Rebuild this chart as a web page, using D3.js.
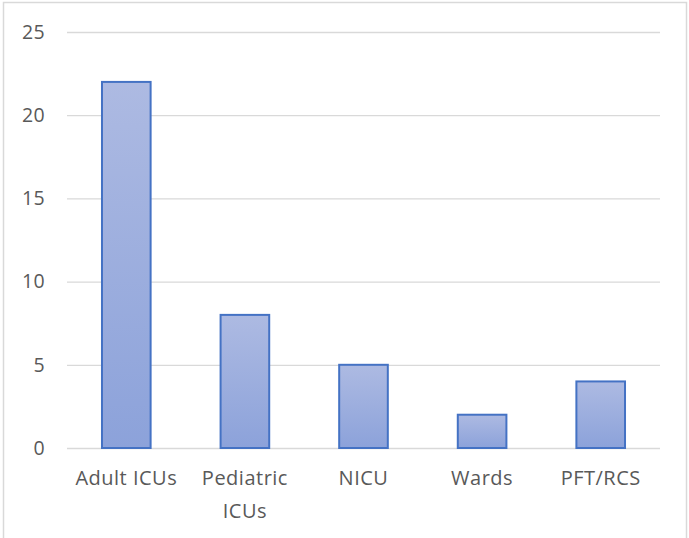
<!DOCTYPE html>
<html>
<head>
<meta charset="utf-8">
<script src="https://cdn.jsdelivr.net/npm/d3@7"></script>
<style>
  html, body { margin: 0; padding: 0; background: #fff; }
  svg { display: block; }
  text { font-family: "Open Sans", "Liberation Sans", sans-serif; fill: #595959; }
</style>
</head>
<body>
<svg id="chart" width="689" height="538"></svg>
<script>
// Chart data
const categories = ["Adult ICUs", "Pediatric ICUs", "NICU", "Wards", "PFT/RCS"];
const counts = [22, 8, 5, 2, 4];
const yTicks = [0, 5, 10, 15, 20, 25];

const W = 689, H = 538;
const plot = { left: 67, right: 660, top: 32, bottom: 448 };

const svg = d3.select("#chart");

// Per-bar vertical gradient
const defs = svg.append("defs");
const grad = defs.append("linearGradient")
  .attr("id", "barFill")
  .attr("x1", 0).attr("y1", 0).attr("x2", 0).attr("y2", 1);
grad.append("stop").attr("offset", "0%").attr("stop-color", "#adbae2");
grad.append("stop").attr("offset", "100%").attr("stop-color", "#8ca2da");

// Chart area border
svg.append("rect")
  .attr("x", 3.5).attr("y", 2.5)
  .attr("width", 683).attr("height", 545)
  .attr("fill", "none")
  .attr("stroke", "#d9d9d9")
  .attr("stroke-width", 1.5);

const x = d3.scaleBand()
  .domain(categories)
  .range([plot.left, plot.right])
  .paddingInner(0.59)
  .paddingOuter(0.295);

const y = d3.scaleLinear()
  .domain([0, 25])
  .range([plot.bottom, plot.top]);

// Horizontal gridlines
const yAxis = d3.axisLeft(y)
  .tickValues(yTicks)
  .tickSize(-(plot.right - plot.left))
  .tickPadding(22);

const gy = svg.append("g")
  .attr("transform", `translate(${plot.left},0)`)
  .call(yAxis);
gy.select(".domain").remove();
gy.selectAll(".tick line")
  .attr("stroke", "#d9d9d9")
  .attr("stroke-width", 1.3);
gy.selectAll(".tick text")
  .style("font-size", "19.5px")
  .style("letter-spacing", "0.3px")
  .attr("fill", "#595959");

// Bars
svg.append("g")
  .selectAll("rect")
  .data(categories.map((c, i) => ({ c, v: counts[i] })))
  .join("rect")
  .attr("x", d => x(d.c))
  .attr("y", d => y(d.v))
  .attr("width", x.bandwidth())
  .attr("height", d => y(0) - y(d.v))
  .attr("fill", "url(#barFill)")
  .attr("stroke", "#4472c4")
  .attr("stroke-width", 2);

// Category axis
const labelY = 37;
const lineGap = 33;
const xAxis = d3.axisBottom(x).tickSize(0).tickPadding(0);
const gx = svg.append("g")
  .attr("transform", `translate(0,${plot.bottom})`)
  .call(xAxis);
gx.select(".domain").remove();
gx.selectAll(".tick text")
  .style("font-size", "20px")
  .style("letter-spacing", "0.5px")
  .attr("fill", "#595959")
  .attr("dy", null)
  .attr("y", labelY)
  .each(function () { wrap(d3.select(this), x.step() - 6); });

// Break a category label onto extra lines when it is wider than its band
function wrap(textSel, width) {
  const words = textSel.text().split(/\s+/);
  textSel.text(null);
  let line = [];
  let lineNo = 0;
  let tspan = textSel.append("tspan").attr("x", 0).attr("y", labelY);
  for (const w of words) {
    line.push(w);
    tspan.text(line.join(" "));
    if (tspan.node().getComputedTextLength() > width && line.length > 1) {
      line.pop();
      tspan.text(line.join(" "));
      line = [w];
      lineNo++;
      tspan = textSel.append("tspan").attr("x", 0).attr("y", labelY + lineNo * lineGap).text(w);
    }
  }
}
</script>
</body>
</html>
